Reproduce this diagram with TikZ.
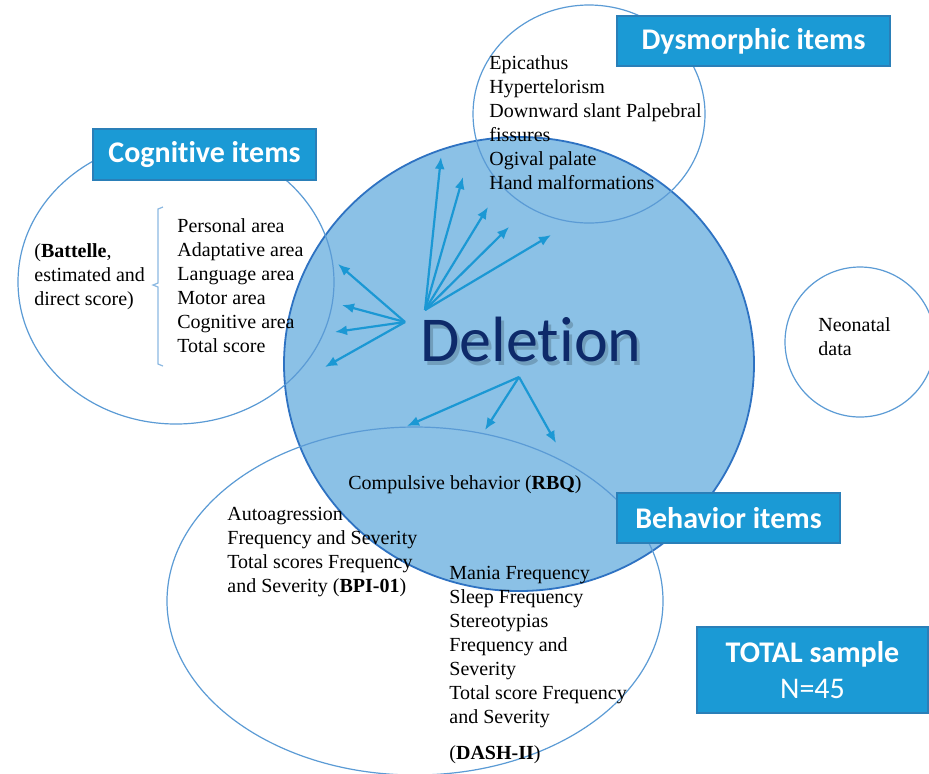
\documentclass[tikz,border=0pt]{standalone}
\usepackage{fontspec}
\setmainfont{Liberation Serif}
\newfontfamily\tagfont[Ligatures=NoCommon]{Carlito}
\usetikzlibrary{positioning,arrows.meta}

\definecolor{delfill}{HTML}{8BC1E6}
\definecolor{deledge}{HTML}{2E72C2}
\definecolor{ringblue}{HTML}{5B9BD5}
\definecolor{tagfill}{HTML}{1B9AD5}
\definecolor{tagedge}{HTML}{2A7FB8}
\definecolor{spokeblue}{HTML}{1B98D4}
\definecolor{delnavy}{HTML}{0E2A6A}

\begin{document}
\begin{tikzpicture}[x=0.5pt,y=-0.5pt,
  ring/.style={draw=ringblue,line width=0.6pt},
  tag/.style={draw=tagedge,fill=tagfill,text=white,line width=0.8pt,inner sep=0pt,
    align=center,font=\tagfont\bfseries\fontsize{15}{18}\selectfont},
  items/.style={align=left,inner sep=0pt,anchor=north west,font=\fontsize{10}{12}\selectfont},
  spoke/.style={draw=spokeblue,line width=1.1pt,-{Latex[length=6pt,width=5pt]}}]

\fill[white] (0,0) rectangle (929,773);
\useasboundingbox (0,0) rectangle (929,773);

% circles
\draw[fill=delfill,draw=deledge,line width=0.9pt] (519,364) ellipse [x radius=235,y radius=227];
\draw[ring] (176,282) ellipse [x radius=158,y radius=142];
\draw[ring] (589,114) ellipse [x radius=116,y radius=109];
\draw[ring] (860,342) ellipse [x radius=75,y radius=75];
\draw[ring] (415,601) ellipse [x radius=248,y radius=174];

% brace
\draw[ringblue!70,line width=0.6pt] (163,207) -- (158,209) -- (158,283) -- (153,285)
  -- (158,287) -- (158,364) -- (163,366);

% arrows
\coordinate (cogroot) at (405,322);
\coordinate (dysroot) at (425,310);
\coordinate (behroot) at (519,377);
\foreach \tx/\ty [count=\k] in {338/264,342/305,335/332,325/367}{
  \coordinate (cogtip\k) at (\tx,\ty);
  \draw[spoke] (cogroot) -- (cogtip\k);
}
\foreach \tx/\ty [count=\k] in {441/157,463/177,488/207,509/227,551/235}{
  \coordinate (dystip\k) at (\tx,\ty);
  \draw[spoke] (dysroot) -- (dystip\k);
}
\foreach \tx/\ty [count=\k] in {407/426,485/430,556/443}{
  \coordinate (behtip\k) at (\tx,\ty);
  \draw[spoke] (behroot) -- (behtip\k);
}

% deletion
\node[text=black,opacity=0.18,font=\tagfont\fontsize{32}{36}\selectfont] (delshadow) at (534,343) {Deletion};
\node[text=delnavy,font=\tagfont\fontsize{32}{36}\selectfont] (deletion) at (531,339) {Deletion};

% item lists
\node[items] (cogleft) at (34,243) {(\textbf{Battelle},\\estimated and\\direct score)};
\node[items] (coglist) at (177,218) {Personal area\\Adaptative area\\Language area\\Motor area\\Cognitive area\\Total score};
\node[items] (dyslist) at (489,55) {Epicathus\\Hypertelorism\\Downward slant Palpebral\\fissures\\Ogival palate\\Hand malformations};
\node[items] (neolist) at (818,317) {Neonatal\\data};
\node[items,anchor=center] (rbq) at (465,485) {Compulsive behavior (\textbf{RBQ})};
\node[items] (bpi) at (227,507) {Autoagression\\Frequency and Severity\\Total scores Frequency\\and Severity (\textbf{BPI-01})};
\node[items] (dash) at (449,566) {Mania Frequency\\Sleep Frequency\\Stereotypias\\Frequency and\\Severity\\Total score Frequency\\and Severity\\[6pt](\textbf{DASH-II})};

% tags
\node[tag,minimum width=111.5pt,minimum height=25.5pt] (cogtag) at (204.5,154.5) {Cognitive items};
\node[tag,minimum width=136.5pt,minimum height=25pt] (dystag) at (753.5,41) {Dysmorphic items};
\node[tag,minimum width=111.5pt,minimum height=25pt] (behtag) at (728.5,518) {Behavior items};
\node[tag,minimum width=115.5pt,minimum height=43pt] (totaltag) at (812.5,670) {TOTAL sample\\\mdseries N=45};

\end{tikzpicture}
\end{document}
